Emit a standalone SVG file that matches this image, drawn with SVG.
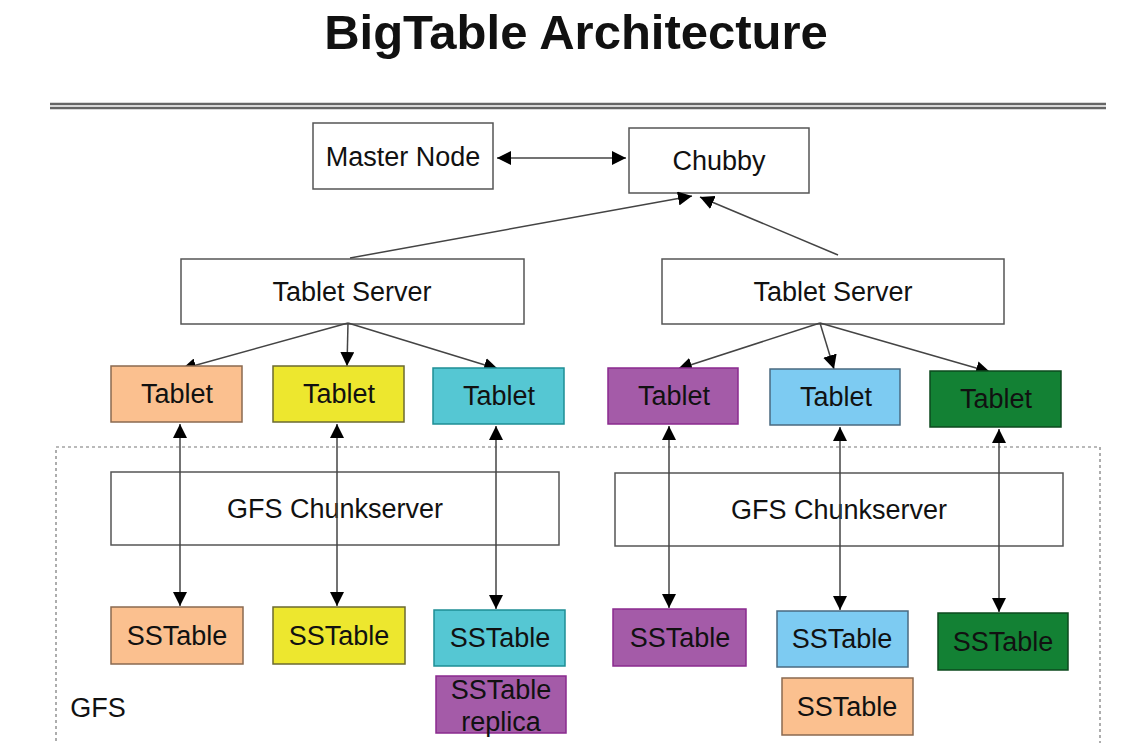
<svg xmlns="http://www.w3.org/2000/svg" width="1138" height="743" viewBox="0 0 1138 743">
<defs>
<marker id="ah" viewBox="0 0 10 10" refX="10" refY="5" markerWidth="14" markerHeight="14" markerUnits="userSpaceOnUse" orient="auto-start-reverse">
<path d="M0,0 L10,5 L0,10 z" fill="#000"/>
</marker>
<style>
text{font-family:"Liberation Sans",Arial,sans-serif;font-size:27px;text-anchor:middle;fill:#111}
.box{stroke:#555;stroke-width:1.5}
.w{fill:#fff}
.peach{fill:#FBC08F;stroke:#8a6a50}
.yel{fill:#EDE72E;stroke:#6b6a30}
.cyan{fill:#55C7D3;stroke:#1e8e95}
.pur{fill:#A45BA8;stroke:#8a2a8e}
.lb{fill:#7DCBF2;stroke:#4a6a80}
.grn{fill:#138134;stroke:#0d4a1e}
.c{stroke:#444;stroke-width:1.5;fill:none}
</style>
</defs>
<rect width="1138" height="743" fill="#fff"/>
<text x="576" y="49" style="font-size:49px;font-weight:bold" fill="#000">BigTable Architecture</text>
<line x1="50" y1="104" x2="1106" y2="104" stroke="#666" stroke-width="2.5"/>
<line x1="50" y1="108" x2="1106" y2="108" stroke="#666" stroke-width="2.5"/>
<rect x="56" y="447" width="1044" height="300" fill="none" stroke="#777" stroke-width="1.2" stroke-dasharray="3,3"/>
<text x="98" y="717">GFS</text>

<g id="master"><rect class="box w" x="313" y="123" width="180" height="66"/><text x="403" y="166">Master Node</text></g>
<g id="chubby"><rect class="box w" x="629" y="128" width="180" height="65"/><text x="719" y="170">Chubby</text></g>
<g id="ts1"><rect class="box w" x="181" y="259" width="343" height="65"/><text x="352" y="301">Tablet Server</text></g>
<g id="ts2"><rect class="box w" x="662" y="259" width="342" height="65"/><text x="833" y="301">Tablet Server</text></g>

<g id="gfs1"><rect class="box w" x="111" y="472" width="448" height="73"/><text x="335" y="518">GFS Chunkserver</text></g>
<g id="gfs2"><rect class="box w" x="615" y="473" width="448" height="73"/><text x="839" y="519">GFS Chunkserver</text></g>

<g id="connectors">
<line class="c" x1="497" y1="158" x2="626" y2="158" marker-start="url(#ah)" marker-end="url(#ah)"/>
<line class="c" x1="350" y1="258" x2="692" y2="196" marker-end="url(#ah)"/>
<line class="c" x1="838" y1="255" x2="700" y2="197" marker-end="url(#ah)"/>
<line class="c" x1="348" y1="323" x2="182" y2="369" marker-end="url(#ah)"/>
<line class="c" x1="348" y1="323" x2="347" y2="366" marker-end="url(#ah)"/>
<line class="c" x1="348" y1="323" x2="498" y2="369" marker-end="url(#ah)"/>
<line class="c" x1="820" y1="323" x2="678" y2="369" marker-end="url(#ah)"/>
<line class="c" x1="820" y1="323" x2="834" y2="369" marker-end="url(#ah)"/>
<line class="c" x1="820" y1="323" x2="990" y2="372" marker-end="url(#ah)"/>
<line class="c" x1="180" y1="424" x2="180" y2="606" marker-start="url(#ah)" marker-end="url(#ah)"/>
<line class="c" x1="337" y1="424" x2="337" y2="606" marker-start="url(#ah)" marker-end="url(#ah)"/>
<line class="c" x1="496" y1="426" x2="496" y2="609" marker-start="url(#ah)" marker-end="url(#ah)"/>
<line class="c" x1="669" y1="426" x2="669" y2="608" marker-start="url(#ah)" marker-end="url(#ah)"/>
<line class="c" x1="840" y1="427" x2="840" y2="610" marker-start="url(#ah)" marker-end="url(#ah)"/>
<line class="c" x1="999" y1="429" x2="999" y2="612" marker-start="url(#ah)" marker-end="url(#ah)"/>
</g>

<g id="tablet1"><rect class="peach" stroke-width="1.5" x="111" y="366" width="131" height="56"/><text x="177" y="403" fill="#2a1208">Tablet</text></g>
<g id="tablet2"><rect class="yel" stroke-width="1.5" x="273" y="366" width="131" height="56"/><text x="339" y="403" fill="#1a1a00">Tablet</text></g>
<g id="tablet3"><rect class="cyan" stroke-width="1.5" x="433" y="368" width="131" height="56"/><text x="499" y="405" fill="#0b4f50">Tablet</text></g>
<g id="tablet4"><rect class="pur" stroke-width="1.5" x="608" y="368" width="130" height="56"/><text x="674" y="405" fill="#5a125e">Tablet</text></g>
<g id="tablet5"><rect class="lb" stroke-width="1.5" x="770" y="369" width="130" height="56"/><text x="836" y="406" fill="#0a1a2a">Tablet</text></g>
<g id="tablet6"><rect class="grn" stroke-width="1.5" x="930" y="371" width="131" height="56"/><text x="996" y="408" fill="#06200c">Tablet</text></g>

<g id="sstable1"><rect class="peach" stroke-width="1.5" x="111" y="607" width="132" height="57"/><text x="177" y="645" fill="#2a1208">SSTable</text></g>
<g id="sstable2"><rect class="yel" stroke-width="1.5" x="273" y="607" width="132" height="57"/><text x="339" y="645" fill="#1a1a00">SSTable</text></g>
<g id="sstable3"><rect class="cyan" stroke-width="1.5" x="434" y="610" width="131" height="56"/><text x="500" y="647" fill="#0b4f50">SSTable</text></g>
<g id="replica"><rect class="pur" stroke-width="1.5" x="436" y="676" width="130" height="57"/><text x="501" y="699" fill="#5a125e">SSTable</text><text x="501" y="731" fill="#5a125e">replica</text></g>
<g id="sstable4"><rect class="pur" stroke-width="1.5" x="613" y="609" width="133" height="57"/><text x="680" y="647" fill="#5a125e">SSTable</text></g>
<g id="sstable5"><rect class="lb" stroke-width="1.5" x="777" y="611" width="131" height="56"/><text x="842" y="648" fill="#0a1a2a">SSTable</text></g>
<g id="sstable6"><rect class="grn" stroke-width="1.5" x="938" y="613" width="130" height="57"/><text x="1003" y="651" fill="#06200c">SSTable</text></g>
<g id="sstable7"><rect class="peach" stroke-width="1.5" x="782" y="678" width="131" height="57"/><text x="847" y="716" fill="#2a1208">SSTable</text></g>
</svg>
